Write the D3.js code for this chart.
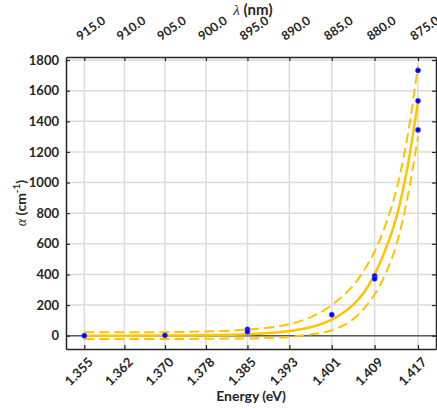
<!DOCTYPE html>
<html><head><meta charset="utf-8">
<script src="https://cdn.jsdelivr.net/npm/d3@7"></script>
<style>
body{margin:0;background:#fff}
svg{display:block}
text{font-family:Lato,'Open Sans',sans-serif;font-weight:bold;fill:#262626}
</style>
</head><body><svg id="c" width="437" height="409"></svg>
<script>
// ---- data ----
const energyTicks = [1.35502,1.36246,1.36999,1.37760,1.38530,1.39308,1.40095,1.40891,1.41696];
const energyTickLabels = ["1.355","1.362","1.370","1.378","1.385","1.393","1.401","1.409","1.417"];
const wavelengthTickLabels = ["915.0","910.0","905.0","900.0","895.0","890.0","885.0","880.0","875.0"];
const yTicks = [0,200,400,600,800,1000,1200,1400,1600,1800];

const pointEnergy = [1.35502,1.36999,1.38530,1.38530,1.40095,1.40891,1.40891,1.41696,1.41696,1.41696];
const pointAlpha  = [0,2,42,26,137,390,372,1732,1534,1344];

const fitEnergy  = [1.35502,1.36246,1.36999,1.37760,1.38530,1.39308,1.39700,1.40095,1.40300,1.40500,1.40700,1.40891,1.41100,1.41300,1.41500,1.41696];
const fitAlpha   = [0,0,1,3,9,30,55,105,148,205,285,400,570,780,1100,1530];
const upperAlpha = [22,22,23,28,40,75,120,200,260,330,430,550,730,960,1300,1760];
const lowerAlpha = [-22,-22,-22,-20,-18,-8,8,35,65,110,180,270,410,600,900,1300];

// ---- layout ----
const svg = d3.select("#c");
const L = 66, R = 436, T = 57, B = 349;
const x = d3.scaleLinear().domain([1.35162, 1.42030]).range([L, R]);
const y = d3.scaleLinear().domain([-87, 1820]).range([B, T]);
const gold = "#FFC400";

// grid
const g = svg.append("g");
g.selectAll("line.vg").data(energyTicks).join("line")
  .attr("x1", d => x(d)).attr("x2", d => x(d)).attr("y1", T).attr("y2", B)
  .attr("stroke", "#dcdcdc").attr("stroke-width", 1.5);
g.selectAll("line.hg").data(yTicks).join("line")
  .attr("y1", d => y(d)).attr("y2", d => y(d)).attr("x1", L).attr("x2", R)
  .attr("stroke", "#dcdcdc").attr("stroke-width", 1.5);

// zero line
svg.append("line").attr("x1", L).attr("x2", R).attr("y1", y(0)).attr("y2", y(0))
  .attr("stroke", "#5a5a5a").attr("stroke-width", 1.5);

// curves
const lineOf = vals => d3.line().x((d, i) => x(fitEnergy[i])).y(d => y(d)).curve(d3.curveMonotoneX)(vals);
svg.append("path").attr("d", lineOf(upperAlpha)).attr("fill", "none").attr("stroke", gold)
  .attr("stroke-width", 2).attr("stroke-dasharray", "10,5");
svg.append("path").attr("d", lineOf(lowerAlpha)).attr("fill", "none").attr("stroke", gold)
  .attr("stroke-width", 2).attr("stroke-dasharray", "10,5");
svg.append("path").attr("d", lineOf(fitAlpha)).attr("fill", "none").attr("stroke", gold)
  .attr("stroke-width", 2.5);

// points
svg.selectAll("circle.p").data(pointAlpha).join("circle")
  .attr("cx", (d, i) => x(pointEnergy[i])).attr("cy", d => y(d)).attr("r", 2.6)
  .attr("fill", "#0000ff").attr("stroke", "#6a6aff").attr("stroke-opacity", 0.5).attr("stroke-width", 1);

// axes (inward ticks)
const xb = d3.axisBottom(x).tickValues(energyTicks).tickFormat((d, i) => energyTickLabels[i]).tickSizeInner(-4).tickSizeOuter(0);
const xt = d3.axisTop(x).tickValues(energyTicks).tickFormat("").tickSizeInner(-4).tickSizeOuter(0);
const yl = d3.axisLeft(y).tickValues(yTicks).tickFormat(d3.format("d")).tickSizeInner(-4).tickSizeOuter(0);
const yr = d3.axisRight(y).tickValues(yTicks).tickFormat("").tickSizeInner(-4).tickSizeOuter(0);

const gb = svg.append("g").attr("transform", `translate(0,${B})`).call(xb);
const gt = svg.append("g").attr("transform", `translate(0,${T})`).call(xt);
const gl = svg.append("g").attr("transform", `translate(${L},0)`).call(yl);
const gr = svg.append("g").attr("transform", `translate(${R},0)`).call(yr);
[gb, gt, gl, gr].forEach(a => {
  a.select(".domain").attr("stroke", "#262626").attr("stroke-width", 1.5);
  a.selectAll(".tick line").attr("stroke", "#262626").attr("stroke-width", 1.2);
  a.selectAll("text").attr("fill", "#262626").style("font-size", "13px");
});
gl.selectAll("text").attr("x", -7);
gb.selectAll("text").attr("text-anchor", "end").attr("dy", null).attr("y", 0).attr("x", 0)
  .attr("transform", "translate(9,14) rotate(-45)");

// top wavelength labels
svg.append("g").selectAll("text").data(energyTicks).join("text")
  .attr("text-anchor", "start").style("font-size", "12.5px")
  .attr("transform", d => `translate(${x(d) - 4},${T - 16}) rotate(-35)`)
  .text((d, i) => wavelengthTickLabels[i]);

// axis titles
svg.append("text").attr("x", (L + R) / 2).attr("y", 401).attr("text-anchor", "middle")
  .style("font-size", "14px").text("Energy (eV)");

const tt = svg.append("text").attr("x", (L + R) / 2 + 2).attr("y", 15).attr("text-anchor", "middle").style("font-size", "15px");
tt.append("tspan").style("font-family", "'Liberation Serif',serif").style("font-style", "italic").style("font-weight", "normal").text("λ");
tt.append("tspan").text(" (nm)");

const yt = svg.append("text").attr("transform", `translate(26,${(T + B) / 2}) rotate(-90)`).attr("text-anchor", "middle").style("font-size", "14px");
yt.append("tspan").style("font-family", "'Liberation Serif',serif").style("font-style", "italic").style("font-weight", "normal").text("α");
yt.append("tspan").text(" (cm");
yt.append("tspan").attr("dy", -6).style("font-size", "10px").text("-1");
yt.append("tspan").attr("dy", 6).text(")");
</script>
</body></html>
